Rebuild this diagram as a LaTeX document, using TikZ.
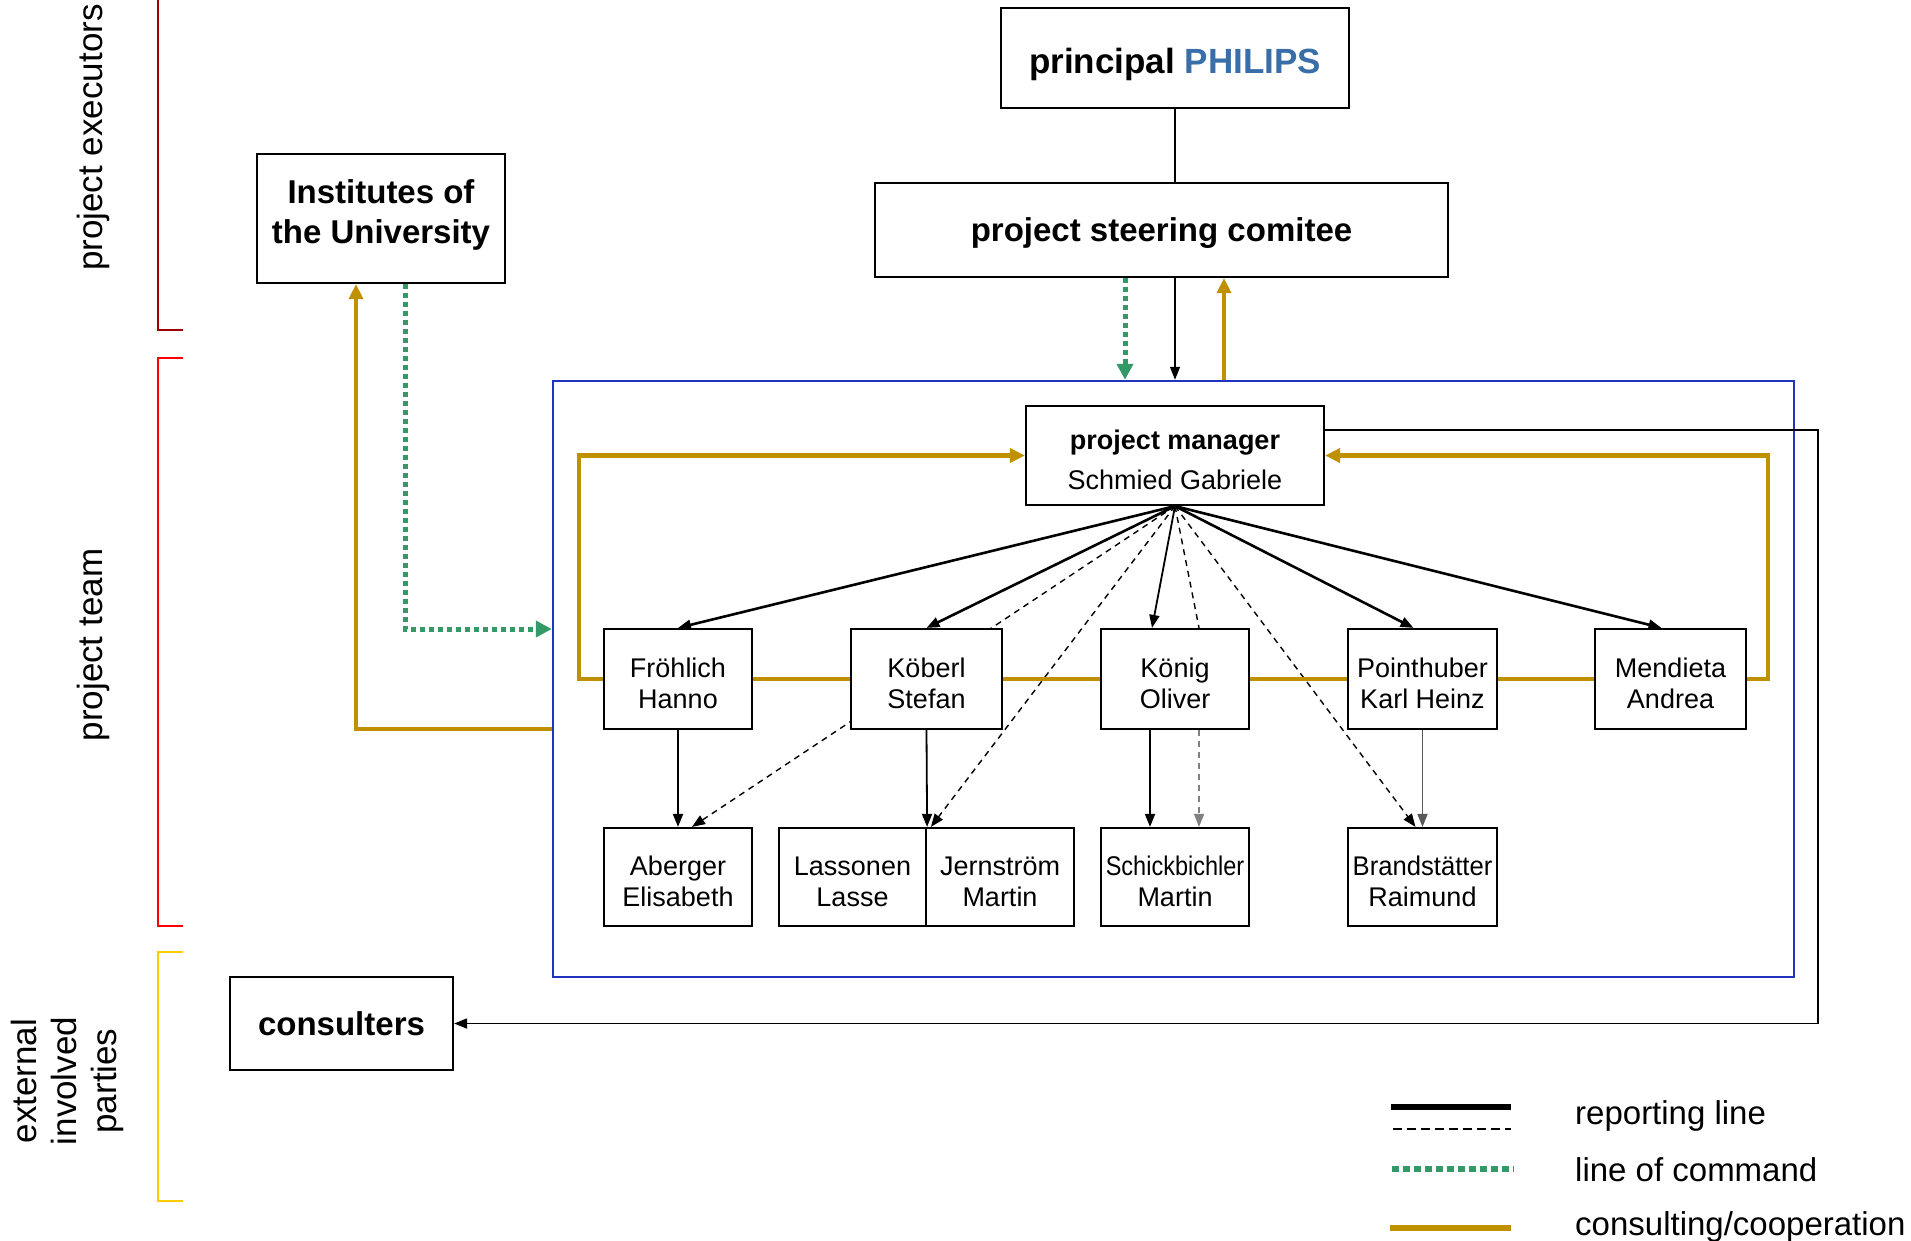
\documentclass[tikz,border=0pt]{standalone}
\usepackage{fontspec}
\usepackage{graphicx}
\setmainfont{Liberation Sans}
\usetikzlibrary{arrows.meta,calc,backgrounds}
\definecolor{goldc}{HTML}{BF9000}
\definecolor{greenc}{HTML}{339966}
\definecolor{bluec}{HTML}{1F35C0}
\definecolor{philblue}{HTML}{3A6EA8}
\definecolor{darkredc}{HTML}{A00000}
\definecolor{brightred}{HTML}{FF0000}
\definecolor{yellowc}{HTML}{FFCC00}
% text block shifted vertically without changing its size
\newcommand\lifted[2]{\raisebox{#1}[\height][\depth]{\begin{tabular}{@{}c@{}}#2\end{tabular}}}
\newcommand\liftone[2]{\raisebox{#1}[\height][\depth]{#2}}
\begin{document}
\begin{tikzpicture}[x=1pt,y=-1pt,
  box/.style={draw=black,line width=2.2pt,fill=white,inner sep=0pt,align=center},
  bigtxt/.style={font=\fontsize{33}{40}\selectfont\bfseries},
  smtxt/.style={font=\fontsize{27}{31}\selectfont},
  report/.style={draw=black,line width=1.8pt,-{Triangle[length=13pt,width=10pt]}},
  reportb/.style={report,line width=2.6pt},
  rdash/.style={draw=black,line width=1.4pt,dash pattern=on 6pt off 5pt,-{Triangle[length=13pt,width=10pt]}},
  command/.style={draw=greenc,line width=5pt,dash pattern=on 5pt off 4pt,-{Triangle[length=16pt,width=16pt]}},
  consult/.style={draw=goldc,line width=4.5pt},
  ctip/.style={-{Triangle[length=15pt,width=14pt]}},
  bracket/.style={line width=2.5pt},
  sidelbl/.style={font=\fontsize{35}{40}\selectfont,rotate=90,align=center,inner sep=0pt},
  legtxt/.style={font=\fontsize{33}{38}\selectfont,anchor=west,inner sep=0pt},
]
\useasboundingbox (0,0) rectangle (1911,1240);
\begin{pgfonlayer}{background}
\fill[white] (0,0) rectangle (1911,1240);
\end{pgfonlayer}

% brackets and side labels
\draw[darkredc,bracket] (183,330) -- (158,330) -- (158,-10);
\draw[brightred,bracket] (183,358) -- (158,358) -- (158,926) -- (183,926);
\draw[yellowc,bracket] (183,952) -- (158,952) -- (158,1201) -- (183,1201);
\node[sidelbl,anchor=west] (lexe) at (93,271) {project executors};
\node[sidelbl] (lteam) at (93,645) {project team};
\node[sidelbl] (lext) at (67,1081) {external\\involved\\parties};

% main boxes
\node[box,minimum width=348pt,minimum height=100pt,font=\fontsize{35}{40}\selectfont\bfseries] (pri) at (1175,58) {\liftone{-6pt}{principal \textcolor{philblue}{PHILIPS}}};
\node[box,bigtxt,minimum width=573pt,minimum height=94pt] (ste) at (1161.5,230) {\liftone{-3pt}{project steering comitee}};
\node[box,bigtxt,minimum width=248pt,minimum height=129pt] (ins) at (381,218.5) {\lifted{3.5pt}{Institutes of\\the University}};
\node[box,bigtxt,minimum width=223pt,minimum height=93pt] (con) at (341.5,1023.5) {consulters};
\node[draw=bluec,line width=2.5pt,minimum width=1241pt,minimum height=596pt,inner sep=0pt] (team) at (1173.5,679) {};

\node[box,font=\fontsize{27}{40}\selectfont,minimum width=298pt,minimum height=99pt] (pm) at (1175,455.5) {\lifted{-6pt}{\textbf{project manager}\\Schmied Gabriele}};

% team row
\node[box,smtxt,minimum width=148pt,minimum height=100pt] (fro) at (678,679) {\lifted{-7.5pt}{Fröhlich\\Hanno}};
\node[box,smtxt,minimum width=151pt,minimum height=100pt] (kob) at (926.5,679) {\lifted{-7.5pt}{Köberl\\Stefan}};
\node[box,smtxt,minimum width=148pt,minimum height=100pt] (kon) at (1175,679) {\lifted{-7.5pt}{König\\Oliver}};
\node[box,smtxt,minimum width=149pt,minimum height=100pt] (poi) at (1422.5,679) {\lifted{-7.5pt}{Pointhuber\\Karl Heinz}};
\node[box,smtxt,minimum width=151pt,minimum height=100pt] (men) at (1670.5,679) {\lifted{-7.5pt}{Mendieta\\Andrea}};

% bottom row
\node[box,smtxt,minimum width=148pt,minimum height=98pt] (abe) at (678,877) {\lifted{-7.5pt}{Aberger\\Elisabeth}};
\node[box,smtxt,minimum width=147pt,minimum height=98pt] (las) at (852.5,877) {\lifted{-7.5pt}{Lassonen\\Lasse}};
\node[box,smtxt,minimum width=148pt,minimum height=98pt] (jer) at (1000,877) {\lifted{-7.5pt}{Jernström\\Martin}};
\node[box,smtxt,minimum width=148pt,minimum height=98pt] (sch) at (1175,877) {\lifted{-7.5pt}{\scalebox{0.87}[1]{Schickbichler}\\Martin}};
\node[box,smtxt,minimum width=149pt,minimum height=98pt] (bra) at (1422.5,877) {\lifted{-7.5pt}{\scalebox{0.95}[1]{Brandstätter}\\Raimund}};

% helper coordinates
\coordinate (gx) at (1125,0);
\coordinate (bx) at (1224,0);
\coordinate (g2) at (405,629);
\coordinate (c2) at (356,729);
\coordinate (gl) at (579,0);
\coordinate (gr) at (1768,0);
\coordinate (kr) at (1818,430);

% top connectors
\draw[black,line width=2pt] (pri.south) -- (pri.south |- ste.north);
\draw[command] (ste.south -| gx) -- (team.north -| gx);
\draw[report,line width=1.5pt] (ste.south -| pm.north) -- (team.north -| pm.north);
\draw[consult,ctip,line width=3.5pt] (team.north -| bx) -- (ste.south -| bx);

% institutes connectors
\draw[command] (ins.south -| g2) -- (g2) -- (team.west |- g2);
\draw[consult,ctip,line width=3.5pt] (team.west |- c2) -- (c2) -- (ins.south -| c2);

% consulting loop inside team
\draw[consult,ctip] (fro.west) -- (fro.west -| gl) -- (gl |- pm.west) -- (pm.west);
\draw[consult,ctip] (men.east) -- (men.east -| gr) -- (gr |- pm.east) -- (pm.east);
\draw[consult] (fro.east) -- (kob.west);
\draw[consult] (kob.east) -- (kon.west);
\draw[consult] (kon.east) -- (poi.west);
\draw[consult] (poi.east) -- (men.west);

% reporting to consulters
\draw[report] (pm.east |- kr) -- (kr) -- (kr |- con.east) -- (con.east);

% reporting lines from project manager
\begin{pgfonlayer}{background}
\draw[reportb] (pm.south) -- (fro.north);
\draw[reportb] (pm.south) -- (kob.north);
\draw[report] (pm.south) -- ($(kon.north)+(-23,0)$);
\draw[reportb] (pm.south) -- ($(poi.north)+(-9,0)$);
\draw[reportb] (pm.south) -- ($(men.north)+(-9,0)$);
\draw[rdash] (pm.south) -- ($(abe.north)+(14,0)$);
\draw[rdash] (pm.south) -- ($(jer.north west)+(6,0)$);
\draw[rdash,-] (pm.south) -- ($(kon.north)+(24,0)$);
\draw[rdash] (pm.south) -- ($(bra.north)+(-7,0)$);
\end{pgfonlayer}

% lower reporting lines
\draw[report] (fro.south) -- (abe.north);
\draw[report] (kob.south) -- (las.north east);
\draw[report] ($(kon.south)+(-25,0)$) -- ($(sch.north)+(-25,0)$);
\draw[rdash,draw=gray] ($(kon.south)+(24,0)$) -- ($(sch.north)+(24,0)$);
\draw[report,draw=gray!70!black] (poi.south) -- (bra.north);

% legend
\draw[black,line width=6pt] (1391,1107) -- (1511,1107);
\draw[black,line width=1.6pt,dash pattern=on 9pt off 5pt] (1393,1129) -- (1511,1129);
\draw[greenc,line width=6pt,dash pattern=on 7pt off 4pt] (1392,1169) -- (1514,1169);
\draw[goldc,line width=6pt] (1390,1228) -- (1511,1228);
\node[legtxt] (l1) at (1575,1116) {reporting line};
\node[legtxt] (l2) at (1575,1170) {line of command};
\node[legtxt] (l3) at (1575,1227) {consulting/cooperation};
\end{tikzpicture}
\end{document}
